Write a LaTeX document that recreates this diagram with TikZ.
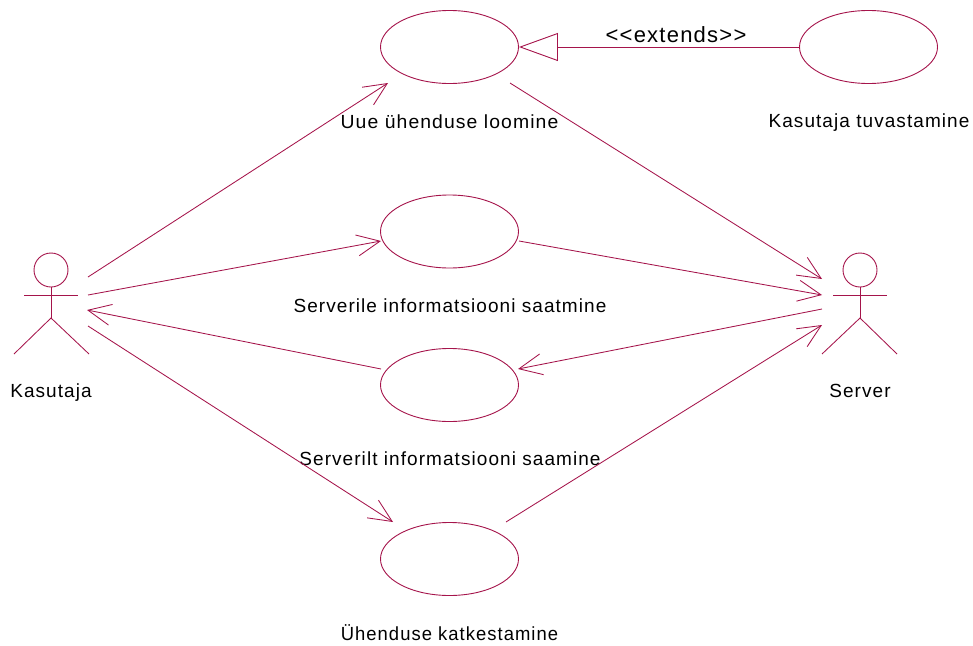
\documentclass[tikz,border=0pt]{standalone}
\usepackage{fontspec}
\setmainfont[LetterSpace=5.6]{Liberation Sans}
\usetikzlibrary{arrows.meta,shapes.geometric}
\definecolor{umlred}{RGB}{165,20,75}
\tikzset{
  usecase/.style={draw=umlred,line width=0.9pt,ellipse,minimum width=138pt,minimum height=73pt,inner sep=0pt},
  lbl/.style={font=\fontsize{19}{22}\selectfont,text=black,inner sep=0pt,anchor=center},
  assoc/.style={draw=umlred,line width=0.85pt,-{Straight Barb[length=23pt,width=21pt,line width=0.85pt]}},
  plainline/.style={draw=umlred,line width=0.85pt},
  ext/.style={draw=umlred,line width=0.9pt,-{Triangle[open,length=39pt,width=28pt,line width=0.9pt]}},
  head/.style={draw=umlred,line width=0.9pt,circle,minimum size=34pt,inner sep=0pt}
}
\begin{document}
\begin{tikzpicture}[x=1pt,y=-1pt]
\useasboundingbox (0,0) rectangle (973,645);
% use cases
\node[usecase] (uc1) at (449.5,47) {};
\node[usecase] (uc2) at (449.5,231.5) {};
\node[usecase] (uc3) at (449.5,385) {};
\node[usecase] (uc4) at (449.5,559) {};
\node[usecase] (uc5) at (868.5,47) {};
% labels
\node[lbl,xscale=1.02] (l1) at (449.5,122) {Uue ühenduse loomine};
\node[lbl] (l2) at (450,305.5) {Serverile informatsiooni saatmine};
\node[lbl] (l3) at (450,458.5) {Serverilt informatsiooni saamine};
\node[lbl,xscale=0.97] (l4) at (449.5,632.5) {Ühenduse katkestamine};
\node[lbl] (l5) at (869,122.5) {Kasutaja tuvastamine};
\node[lbl] (l6) at (51,392.5) {Kasutaja};
\node[lbl] (l7) at (860,391) {Server};
\node[lbl,font=\fontsize{22}{26}\selectfont] (l8) at (676,35) {<{}<extends>{}>};
% actor Kasutaja
\node[head] (ah) at (51,270) {};
\coordinate (an) at (51,318);
\coordinate (aal) at (24,295);
\coordinate (aar) at (78,295);
\coordinate (all) at (14,354);
\coordinate (alr) at (89,354);
\draw[plainline] (ah.south) -- (an);
\draw[plainline] (aal) -- (aar);
\draw[plainline] (all) -- (an) -- (alr);
% actor Server
\node[head] (sh) at (860,270) {};
\coordinate (sn) at (860,318);
\coordinate (sal) at (833,295);
\coordinate (sar) at (887,295);
\coordinate (sll) at (822,354);
\coordinate (slr) at (897,354);
\draw[plainline] (sh.south) -- (sn);
\draw[plainline] (sal) -- (sar);
\draw[plainline] (sll) -- (sn) -- (slr);
% connector ends
\coordinate (a1) at (88,277);
\coordinate (a2) at (88,295);
\coordinate (a3) at (87,310);
\coordinate (a4) at (88,326);
\coordinate (s1) at (822,279);
\coordinate (s2) at (822,295);
\coordinate (s3) at (822,309);
\coordinate (s4) at (822,325);
\coordinate (u1a) at (388,83);
\coordinate (u1s) at (510,83);
\coordinate (u2a) at (381,241);
\coordinate (u2s) at (519,241);
\coordinate (u3a) at (381,369);
\coordinate (u3s) at (518,369);
\coordinate (u4a) at (393,522);
\coordinate (u4s) at (506,522);
% connectors
\draw[assoc] (a1) -- (u1a);
\draw[assoc] (a2) -- (u2a);
\draw[assoc] (u3a) -- (a3);
\draw[assoc] (a4) -- (u4a);
\draw[assoc] (u1s) -- (s1);
\draw[assoc] (u2s) -- (s2);
\draw[assoc] (s3) -- (u3s);
\draw[assoc] (u4s) -- (s4);
\draw[ext] (uc5.west) -- (uc1.east);
\end{tikzpicture}
\end{document}
